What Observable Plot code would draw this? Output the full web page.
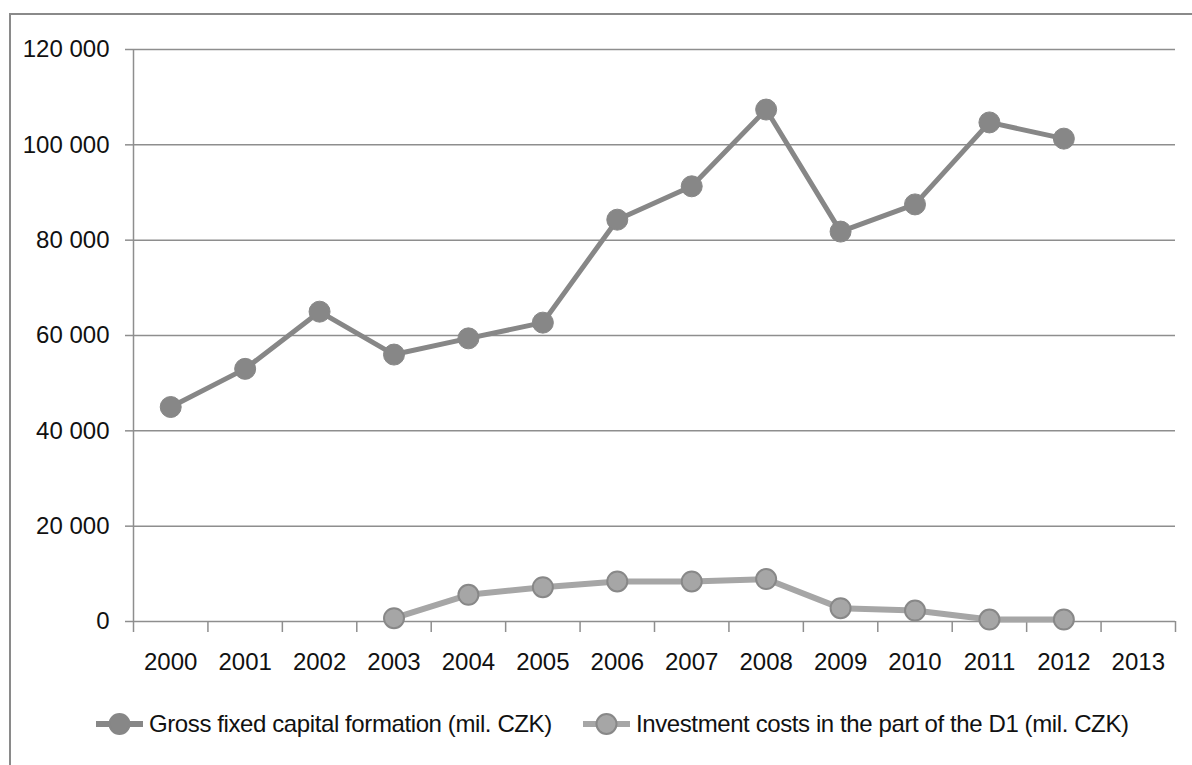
<!DOCTYPE html>
<html>
<head>
<meta charset="utf-8">
<script src="https://cdn.jsdelivr.net/npm/d3@7"></script>
<script src="https://cdn.jsdelivr.net/npm/@observablehq/plot@0.6"></script>
<style>
  html, body { margin: 0; padding: 0; background: #fff; overflow: hidden; }
  #wrap { position: relative; width: 1192px; height: 765px; overflow: hidden; font-family: "Liberation Sans", Arial, sans-serif; }
  #frame { position: absolute; left: 9px; top: 13px; width: 1300px; height: 900px; border-left: 2px solid #8a8a8a; border-top: 2px solid #8a8a8a; }
  #chart { position: absolute; left: 0; top: 0; }
  #legend { position: absolute; left: 0; top: 706px; width: 1192px; height: 36px; }
  .item { position: absolute; top: 0; display: flex; align-items: center; height: 36px; font-size: 24px; color: #111; white-space: nowrap; letter-spacing: -0.4px; }
  .item svg { margin-right: 4px; }
</style>
</head>
<body>
<div id="wrap">
  <div id="frame"></div>
  <div id="chart"></div>
  <div id="legend"></div>
</div>
<script>
const years = [2000, 2001, 2002, 2003, 2004, 2005, 2006, 2007, 2008, 2009, 2010, 2011, 2012, 2013];
const seriesNames = ["Gross fixed capital formation (mil. CZK)", "Investment costs in the part of the D1 (mil. CZK)"];
const grossYears = [2000, 2001, 2002, 2003, 2004, 2005, 2006, 2007, 2008, 2009, 2010, 2011, 2012];
const grossValues = [45000, 53000, 65000, 56000, 59400, 62700, 84300, 91300, 107400, 81800, 87500, 104700, 101300];
const d1Years = [2003, 2004, 2005, 2006, 2007, 2008, 2009, 2010, 2011, 2012];
const d1Values = [700, 5600, 7200, 8400, 8400, 8900, 2800, 2300, 400, 400];
const yTicks = [0, 20000, 40000, 60000, 80000, 100000, 120000];

const colGross = "#878787";
const colD1 = "#a6a6a6";
const colD1Stroke = "#888888";
const gridCol = "#8e8e8e";

const gross = grossYears.map((y, i) => ({year: y, value: grossValues[i]}));
const d1 = d1Years.map((y, i) => ({year: y, value: d1Values[i]}));
const edges = years.map(y => y - 0.5).concat([years[years.length - 1] + 0.5]);
const fmt = d => d3.format(",")(d).replace(/,/g, " ");

const chart = Plot.plot({
  width: 1192,
  height: 690,
  marginLeft: 133,
  marginRight: 17,
  marginTop: 49,
  marginBottom: 69,
  style: {fontFamily: '"Liberation Sans", Arial, sans-serif', fontSize: "24px", color: "#111", background: "transparent"},
  x: {type: "linear", domain: [edges[0], edges[edges.length - 1]]},
  y: {domain: [0, 120000]},
  marks: [
    Plot.ruleY(yTicks, {stroke: gridCol, strokeWidth: 1.5}),
    Plot.ruleX([edges[0]], {y1: 0, y2: 120000, stroke: gridCol, strokeWidth: 1.5}),
    Plot.axisY({ticks: yTicks, tickSize: 8, tickPadding: 16, tickFormat: fmt, stroke: gridCol, strokeWidth: 1.5, strokeOpacity: 1, label: null, fontSize: 24, letterSpacing: -0.4}),
    Plot.axisX({ticks: edges, tickSize: 11, tickFormat: () => "", stroke: gridCol, strokeWidth: 1.5, strokeOpacity: 1, label: null}),
    Plot.axisX({ticks: years, tickSize: 0, tickPadding: 31, tickFormat: d => String(d), label: null, fontSize: 24, letterSpacing: -0.4}),
    Plot.line(d1, {x: "year", y: "value", stroke: colD1, strokeWidth: 6}),
    Plot.dot(d1, {x: "year", y: "value", r: 10, fill: colD1, stroke: colD1Stroke, strokeWidth: 2}),
    Plot.line(gross, {x: "year", y: "value", stroke: colGross, strokeWidth: 5}),
    Plot.dot(gross, {x: "year", y: "value", r: 10.5, fill: colGross, stroke: colGross, strokeWidth: 1})
  ]
});
document.getElementById("chart").appendChild(chart);

// legend
const legend = document.getElementById("legend");
const items = [
  {name: seriesNames[0], left: 95, line: colGross, fill: colGross, stroke: colGross},
  {name: seriesNames[1], left: 582, line: colD1, fill: colD1, stroke: colD1Stroke}
];
for (const it of items) {
  const div = document.createElement("div");
  div.className = "item";
  div.style.left = it.left + "px";
  const sw = d3.create("svg").attr("width", 50).attr("height", 30);
  sw.append("line").attr("x1", 1).attr("x2", 48).attr("y1", 15).attr("y2", 15).attr("stroke", it.line).attr("stroke-width", 6);
  sw.append("circle").attr("cx", 24.5).attr("cy", 15).attr("r", 10).attr("fill", it.fill).attr("stroke", it.stroke).attr("stroke-width", 2);
  div.appendChild(sw.node());
  const span = document.createElement("span");
  span.textContent = it.name;
  div.appendChild(span);
  legend.appendChild(div);
}
</script>
</body>
</html>
